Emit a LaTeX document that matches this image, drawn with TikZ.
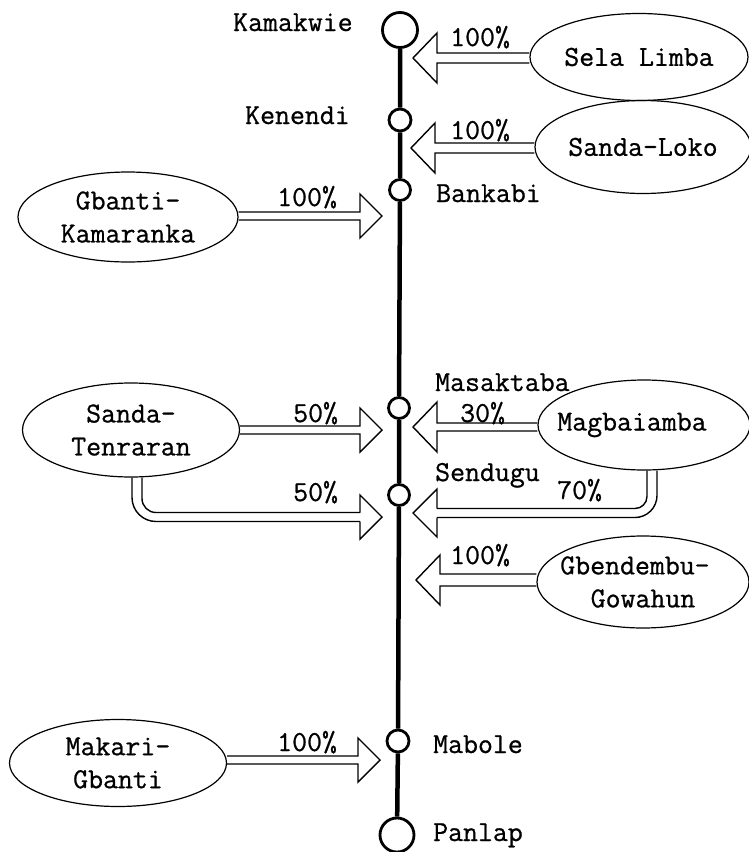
\documentclass[tikz,border=0pt]{standalone}
\usepackage{fontspec}
\newfontfamily\twfont{Latin Modern Mono}[FakeBold=0.8]
\usetikzlibrary{shapes.geometric,calc}
\newcommand\larrow[3]{%
  \draw[blk] ($(#1 |- #2)+(0,-#3)$) -- ($(#2)+(24,-#3)$) -- ($(#2)+(24,-25)$) -- (#2)
    -- ($(#2)+(24,25)$) -- ($(#2)+(24,#3)$) -- ($(#1 |- #2)+(0,#3)$);}
\newcommand\rarrow[3]{%
  \draw[blk] ($(#1 |- #2)+(0,-#3)$) -- ($(#2)+(-22,-#3)$) -- ($(#2)+(-22,-22)$) -- (#2)
    -- ($(#2)+(-22,22)$) -- ($(#2)+(-22,#3)$) -- ($(#1 |- #2)+(0,#3)$);}
\begin{document}
\begin{tikzpicture}[x=1pt,y=-1pt,
  every node/.style={font=\twfont\fontsize{29}{33}\selectfont},
  stn/.style={circle,draw,line width=2.8pt,inner sep=0pt,minimum size=#1},
  region/.style={ellipse,draw,line width=1.2pt,inner sep=0pt,align=center},
  blk/.style={draw,line width=1.4pt,line join=miter},
  mainline/.style={line width=4.5pt},
  lbl/.style={inner sep=0pt,anchor=base west}]
\useasboundingbox (0,0) rectangle (749,852);
\clip (0,0) rectangle (749,852);
% stations
\node[stn=35] (kam) at (400,30) {};
\node[stn=22] (ken) at (400,120) {};
\node[stn=21] (ban) at (400,190) {};
\node[stn=21] (mas) at (399,408) {};
\node[stn=21] (sen) at (399,495) {};
\node[stn=22] (mab) at (398,741) {};
\node[stn=34] (pan) at (397,835) {};
\draw[mainline] (kam) -- (ken) -- (ban) -- (mas) -- (sen) -- (mab) -- (pan);
% station labels
\node[lbl] (lkam) at (233,31) {Kamakwie};
\node[lbl] (lken) at (245,124) {Kenendi};
\node[lbl] (lban) at (436,202) {Bankabi};
\node[lbl] (lmas) at (435,391) {Masaktaba};
\node[lbl] (lsen) at (435,481) {Sendugu};
\node[lbl] (lmab) at (433,753) {Mabole};
\node[lbl] (lpan) at (433,841) {Panlap};
% regions
\node[region,minimum width=218,minimum height=87] (sela) at (639,57) {Sela Limba};
\node[region,minimum width=216,minimum height=93] (loko) at (643,147) {Sanda-Loko};
\node[region,minimum width=220,minimum height=90] (gban) at (128,217) {Gbanti-\\Kamaranka};
\node[region,minimum width=217,minimum height=94] (tenr) at (131,430) {Sanda-\\Tenraran};
\node[region,minimum width=212,minimum height=90] (magb) at (644,425) {\hspace*{-24pt}Magbaiamba};
\node[region,minimum width=212,minimum height=92] (gbend) at (643,582) {\hspace*{-16pt}Gbendembu-\\Gowahun};
\node[region,minimum width=217,minimum height=87] (maka) at (118,763) {Makari-\\Gbanti};
% arrow tips
\coordinate (t1) at (413,58);
\coordinate (t2) at (411,148);
\coordinate (t3) at (382,216);
\coordinate (t4) at (382,430);
\coordinate (t5) at (413,427);
\coordinate (t6) at (382,517);
\coordinate (t7) at (413,513);
\coordinate (t8) at (416,580);
\coordinate (t9) at (380,760);
% straight block arrows
\larrow{sela.west}{t1}{5}
\larrow{loko.west}{t2}{5}
\rarrow{gban.east}{t3}{4}
\rarrow{tenr.east}{t4}{4}
\larrow{magb.west}{t5}{4}
\larrow{gbend.west}{t8}{6}
\rarrow{maka.east}{t9}{4}
% bent arrow Sanda-Tenraran -> Sendugu
\draw[blk,rounded corners=14] ($(tenr.south)+(11,0)$) |- ($(t6)+(-22,-4.5)$);
\draw[blk,rounded corners=24] ($(tenr.south)+(1,0)$) |- ($(t6)+(-22,4.5)$);
\draw[blk] ($(t6)+(-22,-4.5)$) -- ($(t6)+(-22,-22)$) -- (t6) -- ($(t6)+(-22,22)$) -- ($(t6)+(-22,4.5)$);
% bent arrow Magbaiamba -> Sendugu
\draw[blk,rounded corners=12] ($(magb.south)+(3,0)$) |- ($(t7)+(24,-4.5)$);
\draw[blk,rounded corners=22] ($(magb.south)+(13,0)$) |- ($(t7)+(24,4.5)$);
\draw[blk] ($(t7)+(24,-4.5)$) -- ($(t7)+(24,-24)$) -- (t7) -- ($(t7)+(24,24)$) -- ($(t7)+(24,4.5)$);
% percentages
\node[lbl] (p1) at (450,46) {100\%};
\node[lbl] (p2) at (450,139) {100\%};
\node[lbl] (p3) at (277,206) {100\%};
\node[lbl] (p4) at (293,422) {50\%};
\node[lbl] (p5) at (460,422) {30\%};
\node[lbl] (p6) at (293,501) {50\%};
\node[lbl] (p7) at (557,499) {70\%};
\node[lbl] (p8) at (450,564) {100\%};
\node[lbl] (p9) at (277,751) {100\%};
\end{tikzpicture}
\end{document}
